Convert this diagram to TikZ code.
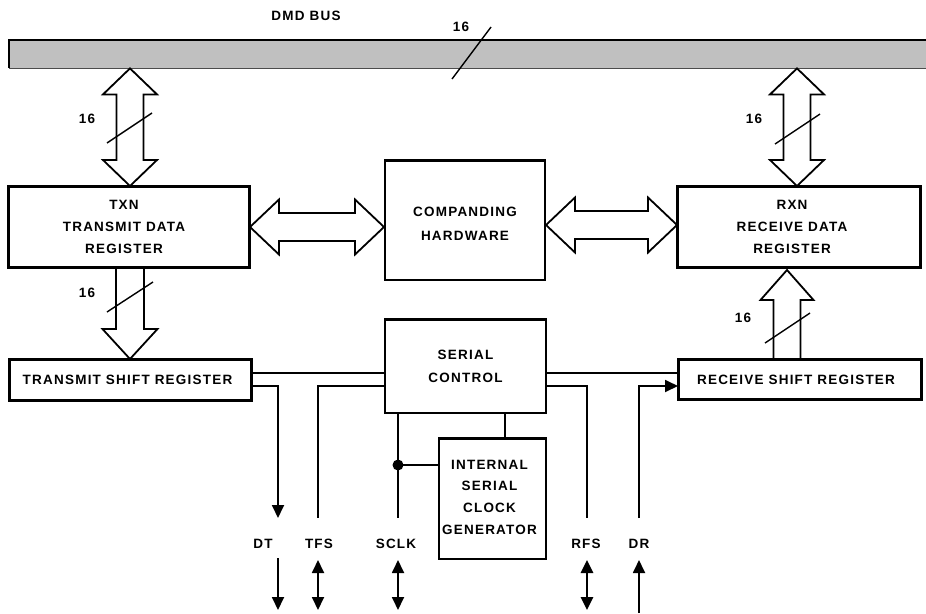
\documentclass[tikz,border=0pt]{standalone}
\usepackage{fontspec}
\setmainfont{Liberation Sans}
\newfontfamily\labfont[LetterSpace=9]{Liberation Sans}
\usetikzlibrary{calc,arrows.meta}
\tikzset{
  box/.style={draw,line width=2pt,anchor=north west,inner sep=0pt},
  topedge/.style={line width=2.8pt},
  txt/.style={font=\labfont\bfseries\fontsize{13.5}{21.7}\selectfont,align=center,inner sep=0pt},
  fat/.style={draw,line width=1.8pt,fill=white,line join=miter},
  wire/.style={line width=1.8pt},
  heavywire/.style={line width=2.6pt},
  slash/.style={line width=1.4pt},
  arr/.style={-{Triangle[length=13pt,width=12pt]}},
  darr/.style={{Triangle[length=13pt,width=12pt]}-{Triangle[length=13pt,width=12pt]}},
}
\newcommand\vdbl[2]{\draw[fat] (#1) -- ($(#1)+(27,26)$) -- ($(#1)+(13.5,26)$) -- ($(#2)+(13.5,-26)$) -- ($(#2)+(27,-26)$) -- (#2) -- ($(#2)+(-27,-26)$) -- ($(#2)+(-13.5,-26)$) -- ($(#1)+(-13.5,26)$) -- ($(#1)+(-27,26)$) -- cycle;}
\newcommand\hdbl[2]{\draw[fat] (#1) -- ($(#1)+(29,-27.5)$) -- ($(#1)+(29,-14)$) -- ($(#2)+(-29,-14)$) -- ($(#2)+(-29,-27.5)$) -- (#2) -- ($(#2)+(-29,27.5)$) -- ($(#2)+(-29,14)$) -- ($(#1)+(29,14)$) -- ($(#1)+(29,27.5)$) -- cycle;}
\begin{document}
\begin{tikzpicture}[x=1pt,y=-1pt]
\useasboundingbox (0,0) rectangle (926,613);
% bus
\node[anchor=north west,inner sep=0pt,minimum width=917pt,minimum height=28pt,fill={rgb,255:red,192;green,192;blue,192}] (bus) at (9,40) {};
\draw[line width=1.3pt] (bus.north east) -- (bus.north west) -- (bus.south west);
\draw[line width=1.1pt,black!70] (bus.south west) -- (bus.south east);
\node[txt] (busT) at (306,16) {DMD BUS};
\node[txt] (bus16) at (461,27) {16};
\draw[slash] (452,79) -- (491,27);
% boxes
\node[box,minimum width=240pt,minimum height=80pt] (txn) at (8,186) {};
\node[box,minimum width=160pt,minimum height=119pt] (comp) at (384,160) {};
\node[box,minimum width=242pt,minimum height=80pt] (rxn) at (677,186) {};
\node[box,minimum width=241pt,minimum height=40pt] (tsr) at (9,359) {};
\node[box,minimum width=161pt,minimum height=93pt] (sc) at (384,319) {};
\node[box,minimum width=242pt,minimum height=39pt] (rsr) at (678,359) {};
\node[box,minimum width=107pt,minimum height=120pt] (icg) at (438,438) {};
\foreach \b in {txn,comp,rxn,tsr,sc,rsr,icg}
  \draw[topedge] (\b.north west) -- (\b.north east);
% box texts
\node[txt] (txnT) at ($(txn.center)+(-5,0)$) {TXN\\TRANSMIT DATA\\REGISTER};
\node[txt,font=\labfont\bfseries\fontsize{13.5}{24}\selectfont] (compT) at ($(comp.center)+(0,3)$) {COMPANDING\\HARDWARE};
\node[txt] (rxnT) at ($(rxn.center)+(-7,0)$) {RXN\\RECEIVE DATA\\REGISTER};
\node[txt] (tsrT) at ($(tsr.center)+(-3,0)$) {TRANSMIT SHIFT REGISTER};
\node[txt,font=\labfont\bfseries\fontsize{13.5}{23}\selectfont] (scT) at (sc.center) {SERIAL\\CONTROL};
\node[txt] (rsrT) at ($(rsr.center)+(-4,0)$) {RECEIVE SHIFT REGISTER};
\node[txt] (icgT) at ($(icg.center)+(-3,-2)$) {INTERNAL\\SERIAL\\CLOCK\\GENERATOR};
% fat arrows
\coordinate (lx) at (130,0);
\coordinate (rx) at (797,0);
\coordinate (lT) at (bus.south -| lx);
\coordinate (lB) at (txn.north -| lx);
\coordinate (rT) at (bus.south -| rx);
\coordinate (rB) at (rxn.north -| rx);
\vdbl{lT}{lB}
\vdbl{rT}{rB}
\coordinate (h1L) at (txn.east);
\coordinate (h1R) at (comp.west |- txn.east);
\hdbl{h1L}{h1R}
\coordinate (h2L) at (comp.east |- rxn.west);
\coordinate (h2R) at ($(rxn.west)+(0,-2)$);
\coordinate (h2L) at ($(h2L)+(0,-2)$);
\hdbl{h2L}{h2R}
\coordinate (dx) at (130,0);
\coordinate (dT) at (txn.south -| dx);
\coordinate (dB) at (tsr.north -| dx);
\draw[fat] ($(dT)+(-14,0)$) -- ($(dB)+(-14,-30)$) -- ($(dB)+(-27.5,-30)$) -- (dB) -- ($(dB)+(27.5,-30)$) -- ($(dB)+(14,-30)$) -- ($(dT)+(14,0)$);
\coordinate (ux) at (787,0);
\coordinate (uT) at ($(rxn.south -| ux)+(0,2)$);
\coordinate (uB) at (rsr.north -| ux);
\draw[fat] ($(uB)+(-13.5,0)$) -- ($(uT)+(-13.5,30)$) -- ($(uT)+(-26.5,30)$) -- (uT) -- ($(uT)+(26.5,30)$) -- ($(uT)+(13.5,30)$) -- ($(uB)+(13.5,0)$);
\foreach \b in {txn,rxn,tsr,rsr}
  \draw[topedge] (\b.north west) -- (\b.north east);
\draw[line width=2pt] (txn.south west) rectangle (txn.north east);
\draw[line width=2pt] (rxn.south west) rectangle (rxn.north east);
\draw[line width=2pt] (tsr.south west) rectangle (tsr.north east);
\draw[line width=2pt] (rsr.south west) rectangle (rsr.north east);
% bus width labels
\node[txt] (l16) at (87,119) {16};
\draw[slash] (107,143) -- (152,113);
\node[txt] (r16) at (754,119) {16};
\draw[slash] (775,144) -- (820,114);
\node[txt] (d16) at (87,293) {16};
\draw[slash] (107,312) -- (153,282);
\node[txt] (u16) at (743,318) {16};
\draw[slash] (765,343) -- (810,313);
% wires
\coordinate (tA) at ($(tsr.north east)+(0,14)$);
\coordinate (tB) at ($(tsr.north east)+(0,27)$);
\draw[wire] (tA) -- (tA -| sc.west);
\coordinate (dtEnd) at (278,518);
\draw[wire,arr] (tB) -| (dtEnd);
\coordinate (tfsEnd) at (318,518);
\draw[wire] (tB -| sc.west) -| (tfsEnd);
\coordinate (sclkEnd) at (398,518);
\draw[wire] (sclkEnd |- sc.south) -- (sclkEnd);
\coordinate (dot) at (398,465);
\fill (dot) circle (5.5);
\draw[line width=2.8pt] (dot) -- (dot -| icg.west);
\coordinate (ig) at (505,0);
\draw[wire] (ig |- icg.north) -- (ig |- sc.south);
\coordinate (rA) at ($(rsr.north west)+(0,14)$);
\coordinate (rBw) at ($(rsr.north west)+(0,27)$);
\draw[wire] (rA -| sc.east) -- (rA);
\coordinate (rfsEnd) at (587,518);
\draw[heavywire] (rBw -| sc.east) -| (rfsEnd);
\coordinate (drEnd) at (639,518);
\draw[wire,arr] (drEnd) |- (rBw);
% pin labels
\node[txt] (dtL) at (263,544) {DT};
\node[txt] (tfsL) at (319,544) {TFS};
\node[txt] (sclkL) at (396,544) {SCLK};
\node[txt] (rfsL) at (586,544) {RFS};
\node[txt] (drL) at (639,544) {DR};
% pin arrows
\coordinate (dtA) at (278,558); \coordinate (dtB) at (278,610);
\draw[wire,arr] (dtA) -- (dtB);
\coordinate (tfsA) at (318,560); \coordinate (tfsB) at (318,610);
\draw[wire,darr] (tfsA) -- (tfsB);
\coordinate (sclkA) at (398,560); \coordinate (sclkB) at (398,610);
\draw[wire,darr] (sclkA) -- (sclkB);
\coordinate (rfsA) at (587,560); \coordinate (rfsB) at (587,610);
\draw[heavywire,darr] (rfsA) -- (rfsB);
\coordinate (drA) at (639,560); \coordinate (drB) at (639,613);
\draw[wire,arr] (drB) -- (drA);
\end{tikzpicture}
\end{document}
